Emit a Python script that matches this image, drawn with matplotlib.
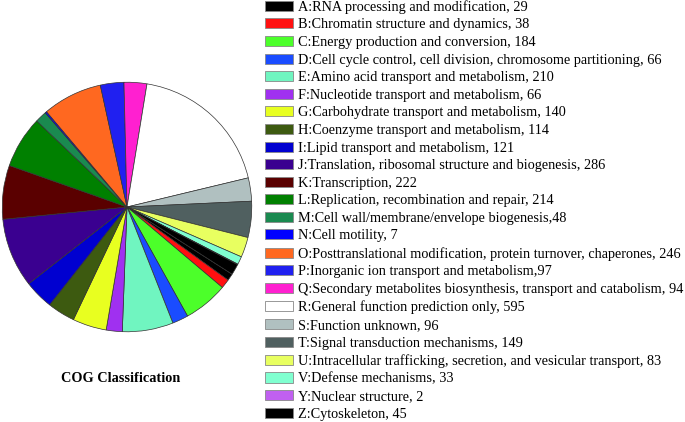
import matplotlib.pyplot as plt
from matplotlib.patches import Patch

plt.rcParams['font.family'] = ['Liberation Serif', 'DejaVu Serif']

# COG categories, gene counts and slice colours
codes = ['A', 'B', 'C', 'D', 'E', 'F', 'G', 'H', 'I', 'J', 'K', 'L', 'M',
         'N', 'O', 'P', 'Q', 'R', 'S', 'T', 'U', 'V', 'Y', 'Z']
names = ['RNA processing and modification, 29',
         'Chromatin structure and dynamics, 38',
         'Energy production and conversion, 184',
         'Cell cycle control, cell division, chromosome partitioning, 66',
         'Amino acid transport and metabolism, 210',
         'Nucleotide transport and metabolism, 66',
         'Carbohydrate transport and metabolism, 140',
         'Coenzyme transport and metabolism, 114',
         'Lipid transport and metabolism, 121',
         'Translation, ribosomal structure and biogenesis, 286',
         'Transcription, 222',
         'Replication, recombination and repair, 214',
         'Cell wall/membrane/envelope biogenesis,48',
         'Cell motility, 7',
         'Posttranslational modification, protein turnover, chaperones, 246',
         'Inorganic ion transport and metabolism,97',
         'Secondary metabolites biosynthesis, transport and catabolism, 94',
         'General function prediction only, 595',
         'Function unknown, 96',
         'Signal transduction mechanisms, 149',
         'Intracellular trafficking, secretion, and vesicular transport, 83',
         'Defense mechanisms, 33',
         'Nuclear structure, 2',
         'Cytoskeleton, 45']
counts = [29, 38, 184, 66, 210, 66, 140, 114, 121, 286, 222, 214, 48,
          7, 246, 97, 94, 595, 96, 149, 83, 33, 2, 45]
colors = ['#000000', '#ff1010', '#4cff2a', '#1a4cff', '#70f5c0', '#a030f0',
          '#e8ff20', '#3d5a10', '#0000d0', '#3a0090', '#5a0000', '#008000',
          '#1a8a50', '#0000ff', '#ff6820', '#2020f0', '#ff20d0', '#ffffff',
          '#b0c0c0', '#506060', '#e8ff60', '#80ffd0', '#c060f0', '#000000']

W, H = 685, 422
fig = plt.figure(figsize=(W / 100, H / 100), dpi=100)

cx, cy, r = 127, 207, 126
ax = fig.add_axes([(cx - r) / W, (H - cy - r) / H, 2 * r / W, 2 * r / H])
ax.pie(counts, colors=colors, startangle=-32.6, counterclock=False,
       wedgeprops=dict(edgecolor='#333333', linewidth=0.5))
ax.set_xlim(-1.01, 1.01)
ax.set_ylim(-1.01, 1.01)
ax.set_aspect('equal')

fig.text(121 / W, 1 - 378 / H, 'COG Classification', ha='center', va='center',
         fontsize=10.3, fontweight='bold')

handles = [Patch(facecolor=c, edgecolor='#888888', linewidth=0.6) for c in colors]
labels = [f'{c}:{n}' for c, n in zip(codes, names)]
fig.legend(handles, labels, loc='upper left', bbox_to_anchor=(265 / W, 1.0),
           frameon=False, fontsize=10.3, handlelength=1.96, handleheight=0.7,
           handletextpad=0.36, labelspacing=0.32, borderpad=0, borderaxespad=0)

fig.savefig('out.png', dpi=100)
